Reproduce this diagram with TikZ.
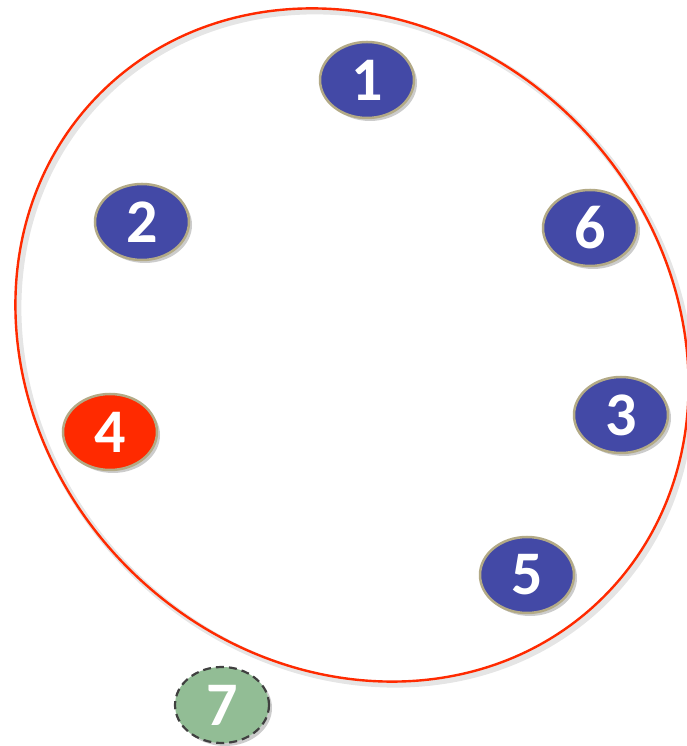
\documentclass[tikz,border=0pt]{standalone}
\usepackage{fontspec}
\setmainfont{Carlito}
\usetikzlibrary{shapes.geometric,shadows}
\definecolor{nblue}{HTML}{4349A6}
\definecolor{nred}{HTML}{FF2A00}
\definecolor{ngreen}{HTML}{92BD95}
\definecolor{nborder}{HTML}{B3AA86}
\definecolor{ring}{HTML}{FF2A00}
\tikzset{
  num/.style={ellipse, minimum width=94pt, minimum height=76pt, inner sep=0pt,
    draw=nborder, line width=2.5pt, text=white,
    font=\fontsize{62}{62}\selectfont\bfseries,
    drop shadow={opacity=0.4, shadow xshift=3pt, shadow yshift=-3pt}},
  bluenum/.style={num, fill=nblue},
  rednum/.style={num, fill=nred},
  greennum/.style={num, fill=ngreen, draw=black!75, dash pattern=on 8pt off 5pt, line width=2.2pt},
  ringshape/.style={ellipse, minimum width=712pt, minimum height=632pt, inner sep=0pt, rotate=-45}
}
\begin{document}
\begin{tikzpicture}[x=1pt,y=1pt]
\useasboundingbox (0,0) rectangle (687,746);
% shadow of the ring
\node[ringshape, draw=black, draw opacity=0.1, line width=6pt] (ringshadow) at (355,398) {};
\node[ringshape, draw=ring, line width=2.4pt] (ring) at (352,401) {};
\node[bluenum] (n1) at (367,666) {1};
\node[bluenum] (n2) at (142,524) {2};
\node[bluenum] (n6) at (590,518) {6};
\node[rednum] (n4) at (110,314) {4};
\node[bluenum] (n3) at (621,331) {3};
\node[bluenum] (n5) at (527,171) {5};
\node[greennum] (n7) at (222,41) {7};
\end{tikzpicture}
\end{document}
